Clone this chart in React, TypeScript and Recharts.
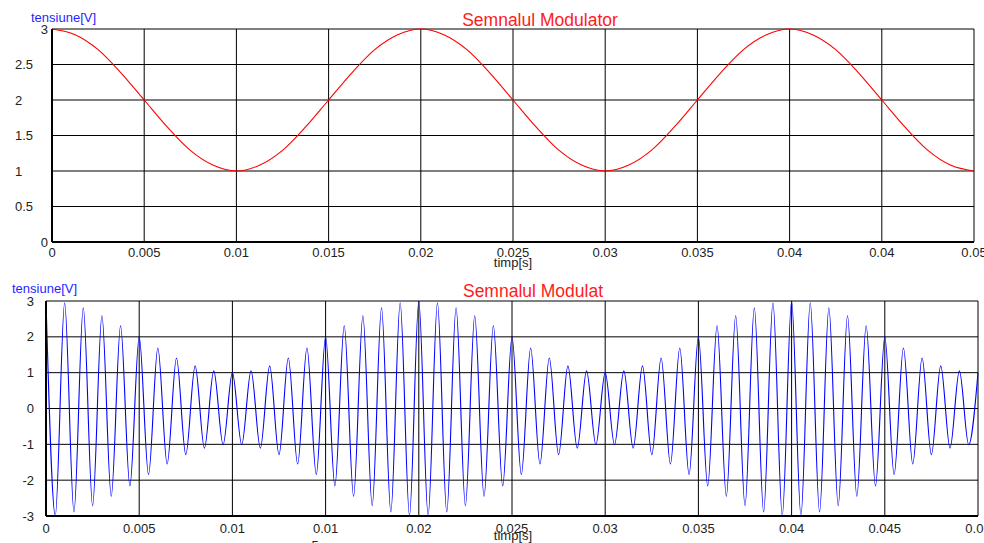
import { LineChart, Line, XAxis, YAxis, CartesianGrid } from 'recharts'

const FONT = '"Liberation Sans", Arial, Helvetica, sans-serif'

// x grid is the same on both panels; the printed labels are not (rounding glitches kept)
const X_TICKS = [0, 0.005, 0.01, 0.015, 0.02, 0.025, 0.03, 0.035, 0.04, 0.045, 0.05]
const TOP_X_LABELS = ['0', '0.005', '0.01', '0.015', '0.02', '0.025', '0.03', '0.035', '0.04', '0.04', '0.05']
const BOT_X_LABELS = ['0', '0.005', '0.01', '0.01', '0.02', '0.025', '0.03', '0.035', '0.04', '0.045', '0.05']
const TOP_Y_TICKS = [0, 0.5, 1, 1.5, 2, 2.5, 3]
const TOP_Y_LABELS = ['0', '0.5', '1', '1.5', '2', '2.5', '3']
const BOT_Y_TICKS = [-3, -2, -1, 0, 1, 2, 3]

// modulator, read every 1.25 ms
const MOD_STEP = 0.00125
const MODULATOR = [
  3, 2.92, 2.71, 2.38, 2, 1.62, 1.29, 1.08, 1, 1.08, 1.29, 1.62, 2, 2.38, 2.71, 2.92, 3,
  2.92, 2.71, 2.38, 2, 1.62, 1.29, 1.08, 1, 1.08, 1.29, 1.62, 2, 2.38, 2.71, 2.92, 3,
  2.92, 2.71, 2.38, 2, 1.62, 1.29, 1.08, 1,
]

// modulated signal: every peak / trough, 0.5 ms apart
const AM_STEP = 0.0005
const MODULATED = [
  3, -2.99, 2.95, -2.89, 2.81, -2.71, 2.59, -2.45, 2.31, -2.16, 2, -1.84, 1.69, -1.55, 1.41, -1.29,
  1.19, -1.11, 1.05, -1.01, 1, -1.01, 1.05, -1.11, 1.19, -1.29, 1.41, -1.55, 1.69, -1.84, 2, -2.16,
  2.31, -2.45, 2.59, -2.71, 2.81, -2.89, 2.95, -2.99, 3,
  -2.99, 2.95, -2.89, 2.81, -2.71, 2.59, -2.45, 2.31, -2.16, 2, -1.84, 1.69, -1.55, 1.41, -1.29,
  1.19, -1.11, 1.05, -1.01, 1, -1.01, 1.05, -1.11, 1.19, -1.29, 1.41, -1.55, 1.69, -1.84, 2, -2.16,
  2.31, -2.45, 2.59, -2.71, 2.81, -2.89, 2.95, -2.99, 3,
  -2.99, 2.95, -2.89, 2.81, -2.71, 2.59, -2.45, 2.31, -2.16, 2, -1.84, 1.69, -1.55, 1.41, -1.29,
  1.19, -1.11, 1.05, -1.01, 1,
]

const modData = MODULATOR.map((v, i) => ({ t: i * MOD_STEP, v }))
const amData = MODULATED.map((v, i) => ({ t: i * AM_STEP, v }))

const tickIndex = (ticks: number[], value: number) =>
  ticks.findIndex((t) => Math.abs(t - value) < 1e-9)

function xTick(labels: string[], baseline: number) {
  return function XTick(props: any) {
    const { x, payload } = props
    const i = tickIndex(X_TICKS, payload.value)
    return (
      <text x={x} y={baseline} textAnchor="middle" fontSize={13} fill="#222" fontFamily={FONT}>
        {labels[i] ?? ''}
      </text>
    )
  }
}

// top panel: 0 and 3 sit against the axis, the others are flush left
function TopYTick(props: any) {
  const { y, payload } = props
  const i = tickIndex(TOP_Y_TICKS, payload.value)
  const edge = payload.value === 0 || payload.value === 3
  return (
    <text
      x={edge ? 48 : 15} y={y + 4.5} textAnchor={edge ? 'end' : 'start'}
      fontSize={13} fill="#222" fontFamily={FONT}
    >
      {TOP_Y_LABELS[i]}
    </text>
  )
}

function BotYTick(props: any) {
  const { y, payload } = props
  return (
    <text x={34} y={y + 4.5} textAnchor="end" fontSize={13} fill="#222" fontFamily={FONT}>
      {String(payload.value)}
    </text>
  )
}

export default function App() {
  return (
    <div style={{ position: 'absolute', left: 0, top: 0, width: 984, height: 543, background: '#fff', overflow: 'hidden' }}>
      <div style={{ position: 'absolute', left: 0, top: 0 }}>
        <LineChart width={984} height={270} data={modData} margin={{ top: 29, right: 10, bottom: 0, left: 0 }}>
          <CartesianGrid stroke="#000" strokeWidth={1} />
          <XAxis
            type="number" dataKey="t" domain={[0, 0.05]} ticks={X_TICKS} height={28}
            tick={xTick(TOP_X_LABELS, 257)} tickLine={false} interval={0}
            axisLine={{ stroke: '#000', strokeWidth: 2 }}
          />
          <YAxis
            type="number" domain={[0, 3]} ticks={TOP_Y_TICKS} width={52}
            tick={TopYTick} tickLine={false} interval={0}
            axisLine={{ stroke: '#000', strokeWidth: 2 }}
          />
          <Line
            dataKey="v" type="monotone" stroke="#ff0000" strokeWidth={1.1}
            dot={false} activeDot={false} isAnimationActive={false}
          />
        </LineChart>
      </div>

      <div style={{ position: 'absolute', left: 0, top: 275 }}>
        <LineChart width={984} height={268} data={amData} margin={{ top: 26, right: 6, bottom: 0, left: 0 }}>
          <CartesianGrid stroke="#000" strokeWidth={1} />
          <XAxis
            type="number" dataKey="t" domain={[0, 0.05]} ticks={X_TICKS} height={27}
            tick={xTick(BOT_X_LABELS, 258)} tickLine={false} interval={0}
            axisLine={{ stroke: '#000', strokeWidth: 2 }}
          />
          <YAxis
            type="number" domain={[-3, 3]} ticks={BOT_Y_TICKS} width={46}
            tick={BotYTick} tickLine={false} interval={0}
            axisLine={{ stroke: '#000', strokeWidth: 2 }}
          />
          <Line
            dataKey="v" type="monotone" stroke="#0000ff" strokeWidth={1.1}
            dot={false} activeDot={false} isAnimationActive={false}
          />
        </LineChart>
      </div>

      <svg width={984} height={543} style={{ position: 'absolute', left: 0, top: 0, pointerEvents: 'none' }} fontFamily={FONT}>
        <text x={31} y={22} fontSize={13} fill="#1f1fff">tensiune[V]</text>
        <text x={540} y={26} fontSize={17.5} fill="#ff1a1a" textAnchor="middle">Semnalul Modulator</text>
        <text x={513} y={266.5} fontSize={13} fill="#222" textAnchor="middle">timp[s]</text>
        <text x={12} y={293} fontSize={13} fill="#1f1fff">tensiune[V]</text>
        <text x={533} y={297} fontSize={17.5} fill="#ff1a1a" textAnchor="middle">Semnalul Modulat</text>
        <text x={513} y={539.5} fontSize={13} fill="#222" textAnchor="middle">timp[s]</text>
        <text x={315} y={550} fontSize={13} fill="#222" textAnchor="middle">5</text>
      </svg>
    </div>
  )
}
